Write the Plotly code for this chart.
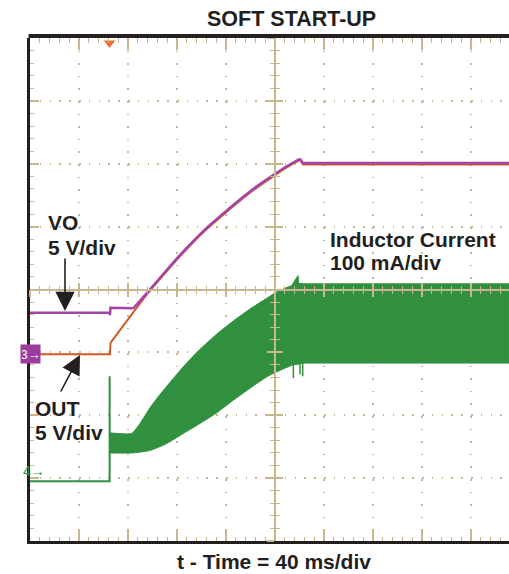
import plotly.graph_objects as go

# ---------------- data (time in ms, level in divisions) ----------------
vo_flat_t = [0, 64.9, 65.3, 65.7, 84.3]
vo_flat_v = [3.63, 3.63, 3.59, 3.71, 3.70]
vo_ramp_t = [84.3, 96.6, 111.6, 121.1, 133.3, 144.3, 157.8, 168.7, 182.3, 198.6, 209.6, 220.4]
vo_ramp_v = [3.70, 3.97, 4.31, 4.52, 4.77, 4.98, 5.21, 5.39, 5.60, 5.82, 5.96, 6.08]
vo_end_t = [220.4, 222.9, 391]
vo_end_v = [6.08, 6.01, 6.01]

out_flat_t = [0, 65.3, 65.7]
out_flat_v = [2.97, 2.97, 3.15]
out_ramp_t = [65.7, 96.6, 111.6, 121.1, 133.3, 144.3, 157.8, 168.7, 182.3, 198.6, 209.6, 220.4]
out_ramp_v = [3.15, 3.95, 4.29, 4.50, 4.75, 4.96, 5.19, 5.37, 5.58, 5.80, 5.94, 6.06]
out_end_t = [220.4, 222.9, 391]
out_end_v = [6.06, 5.99, 5.99]

il_lead_t = [0, 65.0, 65.0]
il_lead_v = [0.95, 0.95, 2.62]

# ramp part of the inductor current envelope
il_up_t = [65.3, 83.0, 89.8, 98.0, 106.1, 119.8, 127.9, 138.8, 152.4, 166.0, 179.6,
           193.2, 201.4, 212.2, 222.0]
il_up_v = [1.72, 1.71, 1.87, 2.12, 2.33, 2.65, 2.83, 3.05, 3.29, 3.50, 3.69,
           3.86, 3.96, 4.05, 4.09]
il_lo_t = [65.3, 83.0, 98.0, 111.6, 125.1, 138.8, 152.4, 166.0, 179.6, 193.2, 201.4,
           214.5, 222.0]
il_lo_v = [1.40, 1.40, 1.44, 1.55, 1.71, 1.87, 2.04, 2.24, 2.43, 2.61, 2.69,
           2.80, 2.83]

# steady-state envelope
il_ss_t = [221.0, 391]
il_ss_up = [4.09, 4.09]
il_ss_lo = [2.83, 2.83]

il_peak_t = [213.5, 218.8, 219.6]
il_peak_v = [4.06, 4.22, 4.06]

il_dip_t = [215.0, 215.0, None, 220.4, 220.4, None, 222.6, 222.6]
il_dip_v = [2.80, 2.59, None, 2.83, 2.65, None, 2.83, 2.62]

trig_t = [64.9]
trig_v = [7.92]

title_text = "SOFT START-UP"
xlabel_text = "t - Time = 40 ms/div"
vo_label = ["VO", "5 V/div"]
out_label = ["OUT", "5 V/div"]
il_label = ["Inductor Current", "100 mA/div"]

# ---------------- styling ----------------
W, H = 509, 574
ML, MR, MT, MB = 30, 0, 38, 33
PW, PH = W - ML - MR, H - MT - MB
XMAX = PW / 49.0 * 40.0
TAN = "#c8b68e"
PURPLE = "#a244a8"
ORANGE = "#d2582a"
GREEN = "#31903f"
FONT = "Liberation Sans, Arial, sans-serif"


def px(xp):
    return (xp - ML) / PW


def py(yp):
    return (H - MB - yp) / PH


fig = go.Figure()

# inductor current band
fig.add_trace(go.Scatter(
    x=il_up_t + il_lo_t[::-1], y=il_up_v + il_lo_v[::-1],
    fill="toself", fillcolor=GREEN, mode="lines",
    line=dict(color=GREEN, width=1, shape="spline", smoothing=0.5),
    hoverinfo="skip", showlegend=False))
fig.add_trace(go.Scatter(
    x=il_ss_t + il_ss_t[::-1], y=il_ss_up + il_ss_lo[::-1],
    fill="toself", fillcolor=GREEN, mode="lines",
    line=dict(color=GREEN, width=1), hoverinfo="skip", showlegend=False))
fig.add_trace(go.Scatter(
    x=il_peak_t, y=il_peak_v, fill="toself", fillcolor=GREEN, mode="lines",
    line=dict(color=GREEN, width=1), hoverinfo="skip", showlegend=False))
fig.add_trace(go.Scatter(
    x=il_dip_t, y=il_dip_v, mode="lines", connectgaps=False,
    line=dict(color=GREEN, width=1.5), hoverinfo="skip", showlegend=False))
fig.add_trace(go.Scatter(
    x=il_lead_t, y=il_lead_v, mode="lines",
    line=dict(color=GREEN, width=2), showlegend=False))
# OUT (orange)
for tt, vv, shp in [(out_flat_t, out_flat_v, "linear"), (out_ramp_t, out_ramp_v, "spline"),
                    (out_end_t, out_end_v, "linear")]:
    fig.add_trace(go.Scatter(x=tt, y=vv, mode="lines",
                             line=dict(color=ORANGE, width=2, shape=shp, smoothing=0.6),
                             showlegend=False))
# VO (purple)
for tt, vv, shp in [(vo_flat_t, vo_flat_v, "linear"), (vo_ramp_t, vo_ramp_v, "spline"),
                    (vo_end_t, vo_end_v, "linear")]:
    fig.add_trace(go.Scatter(x=tt, y=vv, mode="lines",
                             line=dict(color=PURPLE, width=2.5, shape=shp, smoothing=0.6),
                             showlegend=False))
# trigger marker
fig.add_trace(go.Scatter(x=trig_t, y=trig_v, mode="markers", cliponaxis=False,
                         marker=dict(symbol="triangle-down", size=10, color="#f26b2e"),
                         showlegend=False))

ax_common = dict(range=[0, XMAX], showticklabels=False, zeroline=False)
ay_common = dict(range=[0, 8], showticklabels=False, zeroline=False)

fig.update_layout(
    width=W, height=H, margin=dict(l=ML, r=MR, t=MT, b=MB, pad=0),
    paper_bgcolor="white", plot_bgcolor="white", showlegend=False,
    xaxis=dict(**ax_common, showgrid=True, gridcolor=TAN, gridwidth=1.5,
               griddash="1.5px,11.1px", tick0=0, dtick=40,
               ticks="inside", ticklen=10, tickwidth=1.5, tickcolor=TAN,
               minor=dict(ticks="inside", dtick=8, tick0=0, ticklen=4, tickwidth=1.2,
                          tickcolor=TAN, showgrid=False),
               showline=True, linecolor="#231f20", linewidth=3),
    yaxis=dict(**ay_common, showgrid=True, gridcolor=TAN, gridwidth=1.5,
               griddash="1.5px,8.3px", tick0=0, dtick=1,
               ticks="inside", ticklen=9, tickwidth=1.5, tickcolor=TAN,
               minor=dict(ticks="inside", dtick=0.2, tick0=0, ticklen=4, tickwidth=1.2,
                          tickcolor=TAN, showgrid=False),
               showline=True, linecolor="#231f20", linewidth=3),
    xaxis2=dict(**ax_common, overlaying="x", side="top", anchor="y", showgrid=False,
                tick0=0, dtick=40, ticks="inside", ticklen=12, tickwidth=1.5, tickcolor=TAN,
                minor=dict(ticks="inside", dtick=8, tick0=0, ticklen=5, tickwidth=1.2,
                           tickcolor=TAN, showgrid=False),
                showline=False),
    xaxis3=dict(**ax_common, overlaying="x", anchor="free", position=0.5, showgrid=False,
                tick0=0, dtick=40, ticks="outside", ticklen=7, tickwidth=1.5, tickcolor=TAN,
                minor=dict(ticks="outside", dtick=8, tick0=0, ticklen=4, tickwidth=1.2,
                           tickcolor=TAN, showgrid=False),
                showline=True, linecolor=TAN, linewidth=1.5),
    xaxis4=dict(**ax_common, overlaying="x", anchor="free", position=0.5, showgrid=False,
                tick0=0, dtick=40, ticks="inside", ticklen=7, tickwidth=1.5, tickcolor=TAN,
                minor=dict(ticks="inside", dtick=8, tick0=0, ticklen=4, tickwidth=1.2,
                           tickcolor=TAN, showgrid=False),
                showline=False),
    yaxis3=dict(**ay_common, overlaying="y", anchor="free", position=200 / XMAX,
                showgrid=False, tick0=0, dtick=1, ticks="outside", ticklen=7, tickwidth=1.5,
                tickcolor=TAN,
                minor=dict(ticks="outside", dtick=0.2, tick0=0, ticklen=4, tickwidth=1.2,
                           tickcolor=TAN, showgrid=False),
                showline=True, linecolor=TAN, linewidth=1.5),
    yaxis4=dict(**ay_common, overlaying="y", anchor="free", position=200 / XMAX,
                showgrid=False, tick0=0, dtick=1, ticks="inside", ticklen=7, tickwidth=1.5,
                tickcolor=TAN,
                minor=dict(ticks="inside", dtick=0.2, tick0=0, ticklen=4, tickwidth=1.2,
                           tickcolor=TAN, showgrid=False),
                showline=False),
)

# invisible traces so the extra axes render
for xa, ya in [("x2", "y"), ("x3", "y"), ("x4", "y"), ("x", "y3"), ("x", "y4")]:
    fig.add_trace(go.Scatter(x=[None], y=[None], xaxis=xa, yaxis=ya, showlegend=False,
                             hoverinfo="skip"))

# top border
fig.add_shape(type="line", xref="paper", yref="paper", x0=-0.003, x1=1.0,
              y0=py(36), y1=py(36), line=dict(color="#231f20", width=4))


def text(s, xp, yp, size=21, color="#231f20", anchor="left", bold=True):
    fig.add_annotation(text=("<b>%s</b>" % s) if bold else s, xref="paper", yref="paper",
                       x=px(xp), y=py(yp), xanchor=anchor, yanchor="middle",
                       showarrow=False, font=dict(family=FONT, size=size, color=color))


text(title_text, 291, 19, size=21.5, anchor="center")
text(xlabel_text, 274, 561, size=21, anchor="center")
text(vo_label[0], 46, 222)
text(vo_label[1], 46, 247)
text(out_label[0], 33, 408)
text(out_label[1], 33, 432)
text(il_label[0], 328, 239)
text(il_label[1], 328, 262)

# arrows
fig.add_annotation(xref="paper", yref="paper", x=px(65), y=py(311), ax=0, ay=-54,
                   text="", showarrow=True, arrowhead=2, arrowsize=2.4, arrowwidth=1.6,
                   arrowcolor="#231f20", standoff=0)
fig.add_annotation(xref="paper", yref="paper", x=px(80), y=py(355), ax=-20, ay=38,
                   text="", showarrow=True, arrowhead=2, arrowsize=2.4, arrowwidth=1.6,
                   arrowcolor="#231f20", standoff=0)

# channel markers
fig.add_annotation(xref="paper", yref="paper", x=px(19.5), y=py(354), text="3\u2192",
                   showarrow=False, bgcolor="#9c3c9c", width=17, height=16, borderpad=1,
                   font=dict(family=FONT, size=13, color="white"))
fig.add_annotation(xref="paper", yref="paper", x=px(21), y=py(481), text="4\u2192",
                   showarrow=False, font=dict(family=FONT, size=14, color=GREEN))

fig.write_html("out.html", config={"displayModeBar": False},
               post_script="document.body.style.margin='0';document.body.style.overflow='hidden';")
